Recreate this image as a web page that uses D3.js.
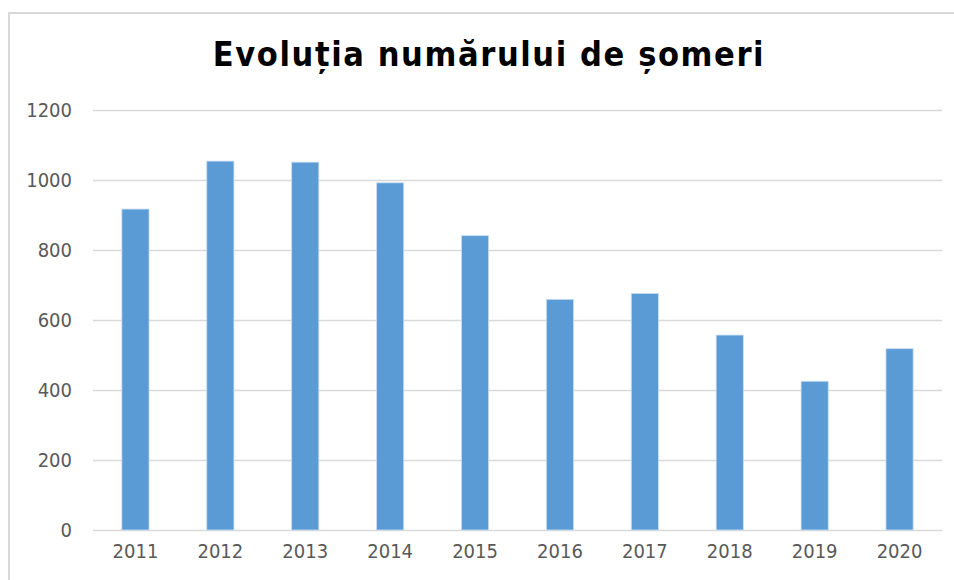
<!DOCTYPE html>
<html>
<head>
<meta charset="utf-8">
<script src="https://d3js.org/d3.v7.min.js"></script>
<style>
  body { margin: 0; background: #fff; }
  text { font-family: "DejaVu Sans Condensed", "DejaVu Sans", sans-serif; font-stretch: condensed; }
</style>
</head>
<body>
<svg width="954" height="580"></svg>
<script>
const years = ["2011","2012","2013","2014","2015","2016","2017","2018","2019","2020"];
const someri = [917, 1054, 1051, 992, 841, 659, 676, 557, 425, 518];
const yTicks = [0, 200, 400, 600, 800, 1000, 1200];
const titlu = "Evoluția numărului de șomeri";

const svgWidth = 954, svgHeight = 580;
const margin = { top: 110, left: 93, bottom: 50, right: 12 };
const width = svgWidth - margin.left - margin.right;
const height = svgHeight - margin.top - margin.bottom;

const svg = d3.select("svg");

// chart frame
svg.append("rect")
  .attr("x", 9).attr("y", 13)
  .attr("width", 960).attr("height", 600)
  .attr("fill", "none")
  .attr("stroke", "#d9d9d9")
  .attr("stroke-width", 2);

const xScale = d3.scaleBand()
  .domain(years)
  .range([0, width])
  .paddingInner(0.68)
  .paddingOuter(0.34);

const yScale = d3.scaleLinear()
  .domain([0, 1200])
  .range([height, 0]);

const g = svg.append("g")
  .attr("transform", `translate(${margin.left},${margin.top})`);

// gridlines + y labels
const yAxis = d3.axisLeft(yScale)
  .tickValues(yTicks)
  .tickSize(-width)
  .tickPadding(21)
  .tickFormat(d => d);

g.append("g")
  .attr("class", "yAxis")
  .call(yAxis)
  .call(s => s.select(".domain").remove())
  .call(s => s.selectAll("line").attr("stroke", "#d9d9d9").attr("stroke-width", 1.5))
  .call(s => s.selectAll("text")
    .attr("fill", "#595959")
    .style("font-size", "20px"));

// bars
g.append("g")
  .selectAll("rect")
  .data(someri)
  .enter()
  .append("rect")
  .attr("x", (d, i) => xScale(years[i]))
  .attr("y", d => yScale(d))
  .attr("width", xScale.bandwidth())
  .attr("height", d => height - yScale(d))
  .attr("fill", "#5b9bd5")
  .attr("stroke", "#c9def2")
  .attr("stroke-width", 0.8);

// x labels
const xAxis = d3.axisBottom(xScale).tickSize(0).tickPadding(14);
g.append("g")
  .attr("class", "xAxis")
  .attr("transform", `translate(0,${height})`)
  .call(xAxis)
  .call(s => s.select(".domain").remove())
  .call(s => s.selectAll("text")
    .attr("fill", "#595959")
    .style("font-size", "20px"));

// title
svg.append("text")
  .text(titlu)
  .attr("x", 489)
  .attr("y", 66)
  .attr("text-anchor", "middle")
  .attr("fill", "#000")
  .style("font-size", "34px")
  .style("letter-spacing", "1.6px")
  .style("font-weight", "bold");
</script>
</body>
</html>
